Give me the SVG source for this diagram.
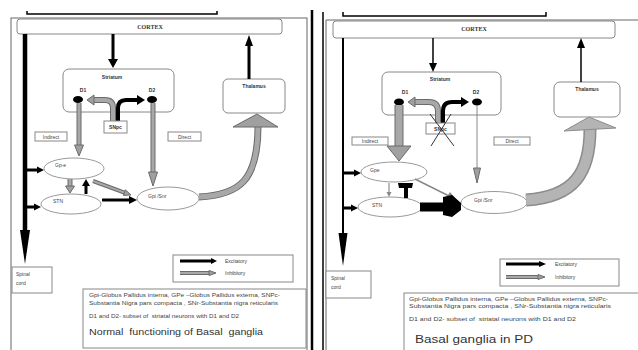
<svg xmlns="http://www.w3.org/2000/svg" width="638" height="350" viewBox="0 0 638 350">
<defs>
<style>
.box{fill:#fff;stroke:#888;stroke-width:1}
.ell{fill:#fff;stroke:#999;stroke-width:1}
.frame{fill:none;stroke:#666;stroke-width:1}
.blk{stroke:#000;fill:none}
.ah{fill:#000}
.gd{stroke:#6a6a6a;fill:none}
.gl{stroke:#a8a8a8;fill:none}
.gah{fill:#a0a0a0;stroke:#6a6a6a;stroke-width:1}
.t{font-family:"Liberation Sans",Arial,sans-serif;fill:#333}
.ts{font-family:"Liberation Sans",Arial,sans-serif;font-size:5px;fill:#444}
.tb{font-family:"Liberation Sans",Arial,sans-serif;font-size:5px;font-weight:bold;fill:#333}
.cx{font-family:"Liberation Serif","Times New Roman",serif;font-size:6px;font-weight:bold;fill:#333;text-anchor:middle}
</style>
</defs>

<!-- panel frames -->
<g id="frames">
<path d="M27,11 V14 H217 V11" stroke="#000" stroke-width="1.5" fill="none"/>
<rect x="11" y="18" width="296" height="340" class="frame"/>
<line x1="312" y1="10" x2="312" y2="350" stroke="#000" stroke-width="2.5"/>
<line x1="323" y1="12" x2="323" y2="350" stroke="#000" stroke-width="1.5"/>
<path d="M326,350 V20 H638" class="frame"/>
<path d="M343,12 V16 H546 V12" stroke="#000" stroke-width="1.5" fill="none"/>
</g>

<!-- ============ LEFT PANEL ============ -->
<g id="L-cortex"><rect x="17" y="19" width="265" height="15" rx="3" class="box"/><text x="150" y="29" class="cx">CORTEX</text></g>
<g id="L-striatum"><rect x="63" y="69" width="111" height="43" rx="6" class="box"/><text x="112" y="79" class="tb" text-anchor="middle">Striatum</text>
<text x="83" y="92" class="tb" text-anchor="middle">D1</text><text x="152" y="92" class="tb" text-anchor="middle">D2</text>
<ellipse cx="78" cy="99.5" rx="5" ry="3.5" fill="#000"/><ellipse cx="152" cy="99.5" rx="5" ry="3.5" fill="#000"/></g>
<g id="L-thalamus"><rect x="223" y="79" width="62" height="34" rx="5" class="box"/><text x="254" y="88" class="tb" text-anchor="middle">Thalamus</text></g>
<g id="L-indirect"><rect x="35" y="132" width="32" height="9" class="box"/><text x="51" y="139" class="ts" text-anchor="middle">Indirect</text></g>
<g id="L-direct"><rect x="168" y="132" width="33" height="9" class="box"/><text x="184.5" y="139" class="ts" text-anchor="middle">Direct</text></g>
<g id="L-gpe"><ellipse cx="74" cy="168.5" rx="30" ry="10.5" class="ell"/><text x="55" y="167" class="ts">Gp-e</text></g>
<g id="L-stn"><ellipse cx="71" cy="204" rx="30" ry="10" class="ell"/><text x="53" y="203" class="ts">STN</text></g>
<g id="L-gpi"><ellipse cx="168" cy="198.5" rx="31" ry="11.5" class="ell"/><text x="148" y="198" class="ts">Gpi /Snr</text></g>
<g id="L-spinal"><rect x="12" y="267" width="40" height="26" class="box"/><text x="16" y="276" class="ts">Spinal</text><text x="16" y="285" class="ts">cord</text></g>

<g id="L-connectors">
<!-- cortex to spinal cord -->
<line x1="25" y1="34" x2="25" y2="232" class="blk" stroke-width="4.5"/>
<polygon points="20,230 30,230 25,264" class="ah"/>
<line x1="25" y1="170" x2="38" y2="170" class="blk" stroke-width="3"/>
<polygon points="37,166.5 37,173.5 44,170" class="ah"/>
<line x1="25" y1="207" x2="35" y2="207" class="blk" stroke-width="3"/>
<polygon points="34,203.5 34,210.5 41,207" class="ah"/>
<!-- cortex to striatum -->
<line x1="113" y1="34" x2="113" y2="60" class="blk" stroke-width="3"/>
<polygon points="108,59 118,59 113,68" class="ah"/>
<!-- thalamus to cortex -->
<line x1="249" y1="79" x2="249" y2="45" class="blk" stroke-width="3"/>
<polygon points="245,46 253,46 249,35" class="ah"/>
<!-- SNpc to D1 (gray) and D2 (black) -->
<path d="M113,121 V108 Q113,100 105,100 H94" class="gd" stroke-width="6"/>
<path d="M113,121 V108 Q113,100 105,100 H94" class="gl" stroke-width="4"/>
<polygon points="94,95 94,105 87,100" class="gah"/>
<path d="M118,121 V108 Q118,100 126,100 H138" class="blk" stroke-width="4"/>
<polygon points="137,95 137,105 145,100" class="ah"/>
<!-- D1 to GPe -->
<line x1="79" y1="103" x2="79" y2="146" class="gd" stroke-width="5"/>
<line x1="79" y1="103" x2="79" y2="146" class="gl" stroke-width="3"/>
<polygon points="74.5,145 83.5,145 79,156" class="gah"/>
<!-- D2 to GPi -->
<line x1="153" y1="103" x2="153" y2="173" class="gd" stroke-width="5"/>
<line x1="153" y1="103" x2="153" y2="173" class="gl" stroke-width="3"/>
<polygon points="148.5,172 157.5,172 153,186" class="gah"/>
<!-- GPe to STN -->
<line x1="70" y1="179" x2="70" y2="187" class="gd" stroke-width="5"/>
<line x1="70" y1="179" x2="70" y2="187" class="gl" stroke-width="3"/>
<polygon points="65.5,186 74.5,186 70,193" class="gah"/>
<!-- STN to GPe -->
<line x1="86" y1="194" x2="86" y2="185" class="blk" stroke-width="3"/>
<polygon points="82,186 90,186 86,179" class="ah"/>
<!-- GPe to GPi -->
<line x1="93" y1="181" x2="124.4" y2="192.6" class="gd" stroke-width="4"/>
<line x1="93" y1="181" x2="124.4" y2="192.6" class="gl" stroke-width="2"/>
<polygon points="123.4,195.4 125.4,189.8 131,195" class="gah"/>
<!-- STN to GPi -->
<line x1="102" y1="200" x2="130" y2="200" class="blk" stroke-width="3"/>
<polygon points="129,196 129,204 137,200" class="ah"/>
<!-- GPi to thalamus -->
<path d="M199,197 C240,195 258,180 258,126" class="gd" stroke-width="7"/>
<path d="M199,197 C240,195 258,180 258,126" class="gl" stroke-width="5"/>
<polygon points="233,127 278,127 257,114" class="gah"/>
</g>

<g id="L-legend"><rect x="173" y="255" width="120" height="27" class="box"/>
<line x1="180" y1="261" x2="212" y2="261" class="blk" stroke-width="3"/><polygon points="211,258 211,264 217,261" class="ah"/>
<text x="225" y="263" class="ts">Excitatory</text>
<line x1="180" y1="273" x2="210" y2="273" class="gd" stroke-width="4"/><line x1="180" y1="273" x2="210" y2="273" class="gl" stroke-width="2"/>
<polygon points="209,270.5 209,275.5 216,273" class="gah"/>
<text x="225" y="275" class="ts">Inhibitory</text></g>

<g id="L-notes"><rect x="83" y="289" width="223" height="59" class="box"/>
<text x="89" y="297" class="ts" textLength="191" lengthAdjust="spacingAndGlyphs">Gpi-Globus Pallidus interna, GPe –Globus Pallidus externa, SNPc-</text>
<text x="89" y="305" class="ts" textLength="189" lengthAdjust="spacingAndGlyphs">Substantia Nigra pars compacta , SNr-Substantia nigra reticularis</text>
<text x="89" y="318" class="ts" textLength="150" lengthAdjust="spacingAndGlyphs" xml:space="preserve">D1 and D2- subset of  striatal neurons with D1 and D2</text>
<text x="89" y="335" class="t" font-size="9" fill="#222" textLength="174" lengthAdjust="spacingAndGlyphs" xml:space="preserve">Normal  functioning of Basal  ganglia</text></g>

<!-- ============ RIGHT PANEL ============ -->
<g id="R-cortex"><rect x="333" y="21" width="282" height="17" rx="3" class="box"/><text x="474" y="31" class="cx">CORTEX</text></g>
<g id="R-striatum"><rect x="382" y="72" width="119" height="43" rx="6" class="box"/><text x="440" y="81" class="tb" text-anchor="middle">Striatum</text>
<text x="405" y="94" class="tb" text-anchor="middle">D1</text><text x="476" y="94" class="tb" text-anchor="middle">D2</text>
<ellipse cx="399" cy="102" rx="5" ry="3.5" fill="#000"/><ellipse cx="477" cy="102" rx="5" ry="3.5" fill="#000"/></g>
<g id="R-thalamus"><rect x="554" y="82" width="66" height="35" rx="6" class="box"/><text x="587" y="91" class="tb" text-anchor="middle">Thalamus</text></g>
<g id="R-indirect"><rect x="352" y="137" width="36" height="8" class="box"/><text x="370" y="143" class="ts" text-anchor="middle">Indirect</text></g>
<g id="R-direct"><rect x="494" y="137" width="36" height="8" class="box"/><text x="512" y="143" class="ts" text-anchor="middle">Direct</text></g>
<g id="R-gpe"><ellipse cx="394" cy="172" rx="33" ry="10" class="ell"/><text x="370" y="172" class="ts">Gpe</text></g>
<g id="R-stn"><ellipse cx="390" cy="207" rx="32" ry="10" class="ell"/><text x="372" y="207" class="ts">STN</text></g>
<g id="R-gpi"><ellipse cx="494" cy="202.5" rx="33" ry="11" class="ell"/><text x="474" y="202" class="ts">Gpi /Snr</text></g>
<g id="R-spinal"><rect x="326" y="271" width="45" height="27" class="box"/><text x="331" y="280" class="ts">Spinal</text><text x="331" y="289" class="ts">cord</text></g>

<g id="R-connectors">
<line x1="343" y1="38" x2="343" y2="236" class="blk" stroke-width="2"/>
<polygon points="338.5,233 347.5,233 343,266" class="ah"/>
<line x1="343" y1="173" x2="355" y2="173" class="blk" stroke-width="3"/>
<polygon points="354,169.5 354,176.5 361,173" class="ah"/>
<line x1="343" y1="208" x2="352" y2="208" class="blk" stroke-width="3"/>
<polygon points="351,204.5 351,211.5 358,208" class="ah"/>
<line x1="433" y1="38" x2="433" y2="64" class="blk" stroke-width="1.5"/>
<polygon points="429,63 437,63 433,72" class="ah"/>
<line x1="581" y1="82" x2="581" y2="47" class="blk" stroke-width="1.5"/>
<polygon points="577,48 585,48 581,38" class="ah"/>
<!-- SNpc to D1/D2 -->
<path d="M438,123 V111 Q438,102 429,102 H415" class="gd" stroke-width="6"/>
<path d="M438,123 V111 Q438,102 429,102 H415" class="gl" stroke-width="4"/>
<polygon points="415,97 415,107 408,102" class="gah"/>
<path d="M443,123 V111 Q443,102 452,102 H462" class="blk" stroke-width="4"/>
<polygon points="461,97 461,107 469,102" class="ah"/>
<!-- D1 to GPe (enhanced) -->
<line x1="399" y1="105" x2="399" y2="147" class="gd" stroke-width="9"/>
<line x1="399" y1="105" x2="399" y2="147" class="gl" stroke-width="7"/>
<polygon points="387,146 411,146 399,161" class="gah"/>
<!-- D2 to GPi (reduced) -->
<line x1="477" y1="105" x2="477" y2="170" stroke="#888" stroke-width="1"/>
<polygon points="473.5,168 480.5,168 477,183" class="gah"/>
<!-- GPe to STN -->
<line x1="389" y1="183" x2="389" y2="193" stroke="#777" stroke-width="1"/>
<polygon points="386.5,192 391.5,192 389,197" fill="#888"/>
<!-- STN to GPe -->
<line x1="406" y1="198" x2="406" y2="187" class="blk" stroke-width="4"/>
<polygon points="398,183 413,183 412,188 399,188" class="ah"/>
<!-- GPe to GPi -->
<line x1="415" y1="179" x2="449" y2="196" stroke="#888" stroke-width="1.5"/>
<polygon points="446,198 450,192 456,199" fill="#888"/>
<!-- STN to GPi (enhanced) -->
<line x1="420" y1="207" x2="446" y2="207" class="blk" stroke-width="9"/>
<polygon points="443,197 452,195 461,203 461,210 452,217 443,215" class="ah"/>
<!-- GPi to thalamus (enhanced) -->
<path d="M526,200 C575,197 590,172 590,129" stroke="#8c8c8c" stroke-width="13" fill="none"/>
<path d="M526,200 C575,197 590,172 590,129" stroke="#b4b4b4" stroke-width="10" fill="none"/>
<polygon points="564,131 616,128 589,117" fill="#b4b4b4" stroke="#8c8c8c" stroke-width="1"/>
</g>

<g id="R-snpc"><rect x="426" y="123" width="29" height="11" class="box"/><text x="440.5" y="131" class="tb" text-anchor="middle">SNpc</text>
<line x1="430" y1="114" x2="454" y2="146" stroke="#333" stroke-width="1"/><line x1="451" y1="114" x2="431" y2="146" stroke="#333" stroke-width="1"/></g>
<g id="L-snpc"><rect x="104" y="121" width="23" height="12" class="box"/><text x="115.5" y="129" class="tb" text-anchor="middle">SNpc</text></g>

<g id="R-legend"><rect x="500" y="259" width="119" height="27" class="box"/>
<line x1="506" y1="264" x2="540" y2="264" class="blk" stroke-width="3"/><polygon points="539,261 539,267 546,264" class="ah"/>
<text x="555" y="266" class="ts">Excitatory</text>
<line x1="506" y1="277" x2="539" y2="277" class="gd" stroke-width="4"/><line x1="506" y1="277" x2="539" y2="277" class="gl" stroke-width="2"/>
<polygon points="538,274.5 538,279.5 545,277" class="gah"/>
<text x="555" y="279" class="ts">Inhibitory</text></g>

<g id="R-notes"><rect x="404" y="293" width="236" height="60" class="box"/>
<text x="409" y="301" class="ts" textLength="199" lengthAdjust="spacingAndGlyphs">Gpi-Globus Pallidus interna, GPe –Globus Pallidus externa, SNPc-</text>
<text x="409" y="308" class="ts" textLength="202" lengthAdjust="spacingAndGlyphs">Substantia Nigra pars compacta , SNr-Substantia nigra reticularis</text>
<text x="409" y="321" class="ts" textLength="167" lengthAdjust="spacingAndGlyphs" xml:space="preserve">D1 and D2- subset of  striatal neurons with D1 and D2</text>
<text x="415" y="343" class="t" font-size="10" fill="#222" textLength="118" lengthAdjust="spacingAndGlyphs">Basal ganglia in PD</text></g>
</svg>
